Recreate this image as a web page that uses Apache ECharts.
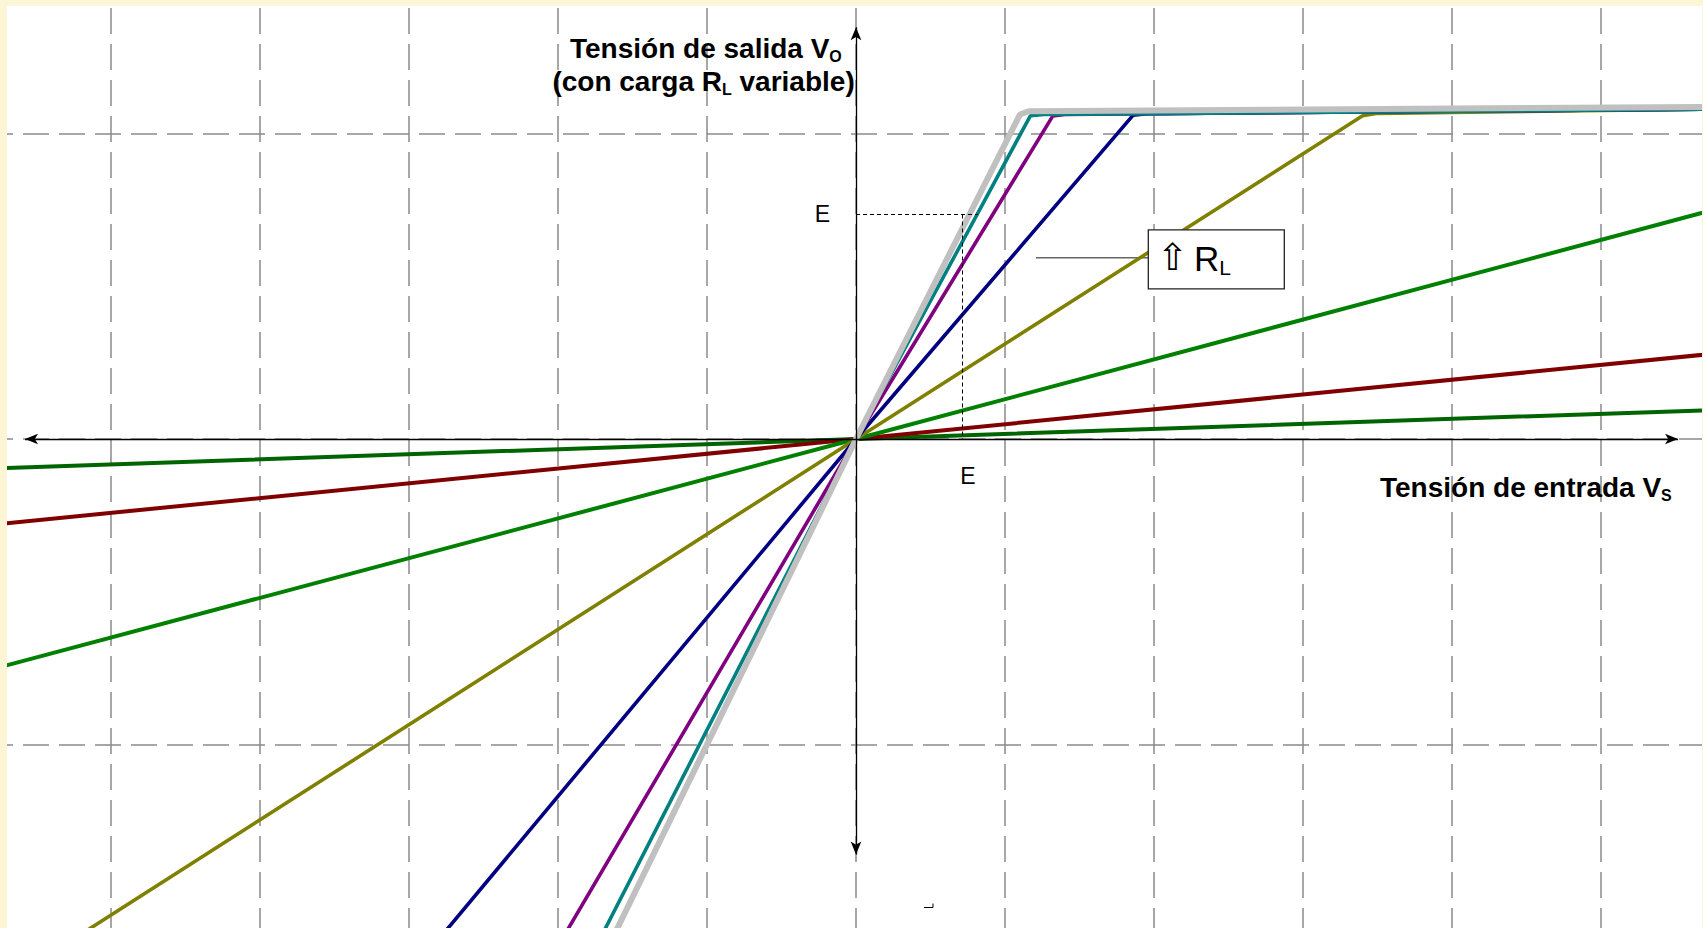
<!DOCTYPE html>
<html>
<head>
<meta charset="utf-8">
<script src="https://cdn.jsdelivr.net/npm/echarts@6/dist/echarts.min.js"></script>
<style>
html,body{margin:0;padding:0;width:1703px;height:928px;overflow:hidden;background:#FCF5D6;}
#frame{position:absolute;left:7px;top:6px;width:1695px;height:922px;background:#ffffff;overflow:hidden;}
#chart{position:absolute;left:-45px;top:-178.5px;width:1788px;height:1222px;}
</style>
</head>
<body>
<div id="frame"><div id="chart"></div></div>
<script>
// ---- axis ranges (grid units: one dashed cell = 1) ----
const xRange = [-6, 6];
const yRange = [-2, 2];
const gridInterval = 1;

// ---- transfer curves Vo(Vs) for increasing RL ----
const curveNames = ['RL1', 'RL2', 'RL3', 'RL4', 'RL5', 'RL6', 'RL7', 'RL8', 'RL9'];
const curveColors = ['#006400', '#800000', '#008000', '#808000', '#000080', '#800080', '#008080', '#FFFF00', '#C0C0C0'];
const curveWidths = [4, 4, 4, 3.6, 3.6, 3.6, 3.6, 2, 6];
const curveDarkGreen = [[-6, -0.100], [0, 0], [6, 0.099]];
const curveDarkRed   = [[-6, -0.290], [0, 0], [6, 0.291]];
const curveGreen     = [[-6, -0.780], [0, 0], [6, 0.782]];
const curveOlive     = [[-6, -1.870], [0, 0], [3.40, 1.058], [3.50, 1.066], [6, 1.082]];
const curveNavy      = [[-3.42, -2.0], [0, 0], [1.86, 1.060], [1.95, 1.065], [6, 1.081]];
const curvePurple    = [[-2.41, -2.0], [0, 0], [1.32, 1.057], [1.40, 1.062], [6, 1.081]];
const curveTeal      = [[-2.10, -2.0], [0, 0], [1.17, 1.058], [1.26, 1.062], [6, 1.081]];
const curveYellow    = [[-2.01, -2.0], [0, 0], [1.11, 1.062], [1.17, 1.072], [6, 1.086]];
const curveGray      = [[-2.00, -2.0], [0, 0], [1.10, 1.062], [1.16, 1.073], [6, 1.088]];
const curves = [curveDarkGreen, curveDarkRed, curveGreen, curveOlive, curveNavy, curvePurple, curveTeal, curveYellow, curveGray];

// ---- axis arrows (data coords of the arrow tips) ----
const xArrowEnds = [-5.577, 5.517];
const yArrowEnds = [-1.360, 1.348];

// ---- reference level E ----
const eMark = [0.7134, 0.7349];
const eGuideEnd = 0.819;

// ---- texts ----
const yTitle1 = 'Tensión de salida V{s|O}';
const yTitle2 = '(con carga R{s|L} variable)';
const xTitle = 'Tensión de entrada V{s|S}';
const eLabel = 'E';
const rlArrow = '\u21E7';
const rlLabel = 'R{s|L}';

const FONT = '"Liberation Sans", Arial, "DejaVu Sans", sans-serif';
// offset of the chart canvas relative to the white frame (frame coords -> chart coords)
const OX = 45, OY = 178.5;

const chart = echarts.init(document.getElementById('chart'), null, {renderer: 'svg'});

const dash = {color: '#8a8a8a', width: 1.5, type: [26, 10]};

const series = [];
series.push({
  name: 'axes', type: 'line', data: [], silent: true,
  markLine: {
    silent: true, animation: false,
    symbol: ['arrow', 'arrow'], symbolSize: [8, 13],
    lineStyle: {color: '#000', width: 1.3, type: 'solid'},
    label: {show: false},
    emphasis: {disabled: true},
    data: [
      [{coord: [xArrowEnds[0], 0]}, {coord: [xArrowEnds[1], 0]}],
      [{coord: [0, yArrowEnds[0]]}, {coord: [0, yArrowEnds[1]]}]
    ]
  }
});
series.push({
  name: 'eGuides', type: 'line', data: [], silent: true,
  markLine: {
    silent: true, animation: false, symbol: ['none', 'none'],
    lineStyle: {color: '#000', width: 1, type: [4, 3]},
    label: {show: false},
    emphasis: {disabled: true},
    data: [
      [{coord: [0, eMark[1]]}, {coord: [eGuideEnd, eMark[1]]}],
      [{coord: [eMark[0], eMark[1]]}, {coord: [eMark[0], 0]}]
    ]
  }
});
curves.forEach((c, i) => {
  series.push({
    name: curveNames[i], type: 'line', data: c,
    showSymbol: false, symbol: 'none', silent: true,
    lineStyle: {color: curveColors[i], width: curveWidths[i]},
    emphasis: {disabled: true},
    z: 3
  });
});

const subRich = (size, pad, weight) => ({fontSize: size, fontWeight: weight, fontFamily: FONT, lineHeight: size + 2, padding: [pad, 0, 0, 0], fill: '#000'});
const txt = (x, y, text, extra) => ({type: 'text', z: 101, x: x + OX, y: y + OY,
  style: Object.assign({text: text, fontFamily: FONT, fill: '#000', align: 'left', verticalAlign: 'middle', textAlign: 'left', textVerticalAlign: 'middle'}, extra)});

chart.setOption({
  animation: false,
  backgroundColor: 'transparent',
  grid: {left: 0, right: 0, top: 0, bottom: 0, containLabel: false},
  xAxis: {
    type: 'value', min: xRange[0], max: xRange[1], interval: gridInterval,
    axisLine: {show: false}, axisTick: {show: false}, axisLabel: {show: false},
    splitLine: {show: true, lineStyle: Object.assign({}, dash)}
  },
  yAxis: {
    type: 'value', min: yRange[0], max: yRange[1], interval: gridInterval,
    axisLine: {show: false}, axisTick: {show: false}, axisLabel: {show: false},
    splitLine: {show: true, lineStyle: Object.assign({dashOffset: 11}, dash)}
  },
  series: series,
  graphic: [
    {type: 'line', z: 1, shape: {x1: 1029 + OX, y1: 251.3 + OY, x2: 1141.3 + OX, y2: 251.3 + OY}, style: {stroke: '#666', lineWidth: 1.5}},
    {type: 'rect', z: 100, shape: {x: 1141.3 + OX, y: 223.3 + OY, width: 136, height: 59}, style: {fill: '#fff', stroke: '#222', lineWidth: 1.3}},
    txt(1165.5, 250.5, rlArrow, {fontSize: 37, fontFamily: '"DejaVu Sans", sans-serif', align: 'center', textAlign: 'center'}),
    txt(1187, 251.7, rlLabel, {fontSize: 35, lineHeight: 44, rich: {s: subRich(21, 19, 'normal')}}),
    txt(563, 41.8, yTitle1, {fontSize: 28, fontWeight: 'bold', lineHeight: 36, rich: {s: subRich(16, 16, 'bold')}}),
    txt(545.4, 75.2, yTitle2, {fontSize: 28, fontWeight: 'bold', lineHeight: 36, rich: {s: subRich(16, 16, 'bold')}}),
    txt(1373, 481.2, xTitle, {fontSize: 28, fontWeight: 'bold', lineHeight: 36, rich: {s: subRich(16, 16, 'bold')}}),
    txt(815.4, 207.4, eLabel, {fontSize: 23, align: 'center', textAlign: 'center'}),
    txt(961, 469, eLabel, {fontSize: 23, align: 'center', textAlign: 'center'}),
    {type: 'polyline', z: 101, shape: {points: [[917 + OX, 901 + OY], [926 + OX, 901 + OY], [926 + OX, 897 + OY]]}, style: {stroke: '#000', lineWidth: 1, fill: null}}
  ]
});
</script>
</body>
</html>
